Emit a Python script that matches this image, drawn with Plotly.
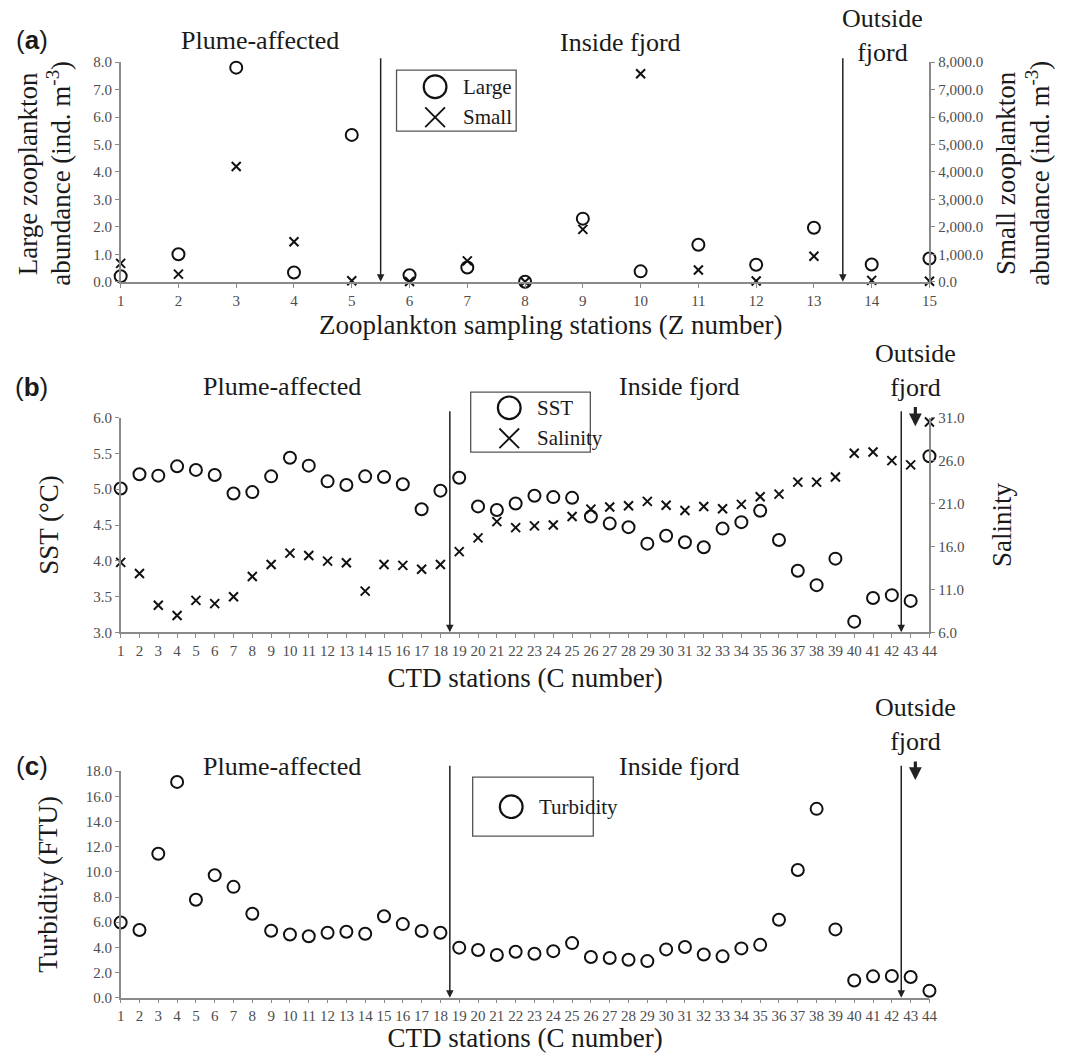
import plotly.graph_objects as go

W, H = 1066, 1053

# ---------------- data ----------------
z_stations = list(range(1, 16))
large_abund = [0.2, 1.0, 7.8, 0.34, 5.35, 0.24, 0.52, 0.0, 2.3, 0.38, 1.35, 0.62, 1.97, 0.63, 0.85]
small_abund = [670, 280, 4200, 1460, 40, 10, 760, 0, 1910, 7580, 430, 30, 930, 50, 20]

c_stations = list(range(1, 45))
sst = [5.01, 5.21, 5.19, 5.32, 5.27, 5.20, 4.94, 4.96, 5.18, 5.44,
       5.33, 5.11, 5.06, 5.18, 5.17, 5.07, 4.72, 4.98, 5.16, 4.76,
       4.71, 4.80, 4.91, 4.89, 4.88, 4.62, 4.52, 4.47, 4.24, 4.35,
       4.26, 4.19, 4.45, 4.54, 4.70, 4.29, 3.86, 3.66, 4.03, 3.15,
       3.48, 3.52, 3.44, 5.46]
salinity = [14.15, 12.85, 9.15, 7.96, 9.73, 9.35, 10.15, 12.5, 13.9, 15.23,
            14.96, 14.3, 14.1, 10.8, 13.9, 13.8, 13.35, 13.9, 15.4, 17.0,
            18.9, 18.2, 18.4, 18.5, 19.5, 20.35, 20.6, 20.75, 21.25, 20.8,
            20.2, 20.65, 20.4, 20.9, 21.8, 22.1, 23.5, 23.5, 24.1, 26.85,
            27.0, 26.0, 25.5, 30.5]
turbidity = [5.98, 5.38, 11.44, 17.15, 7.79, 9.74, 8.81, 6.67, 5.32, 5.02,
             4.88, 5.16, 5.24, 5.08, 6.48, 5.85, 5.30, 5.16, 3.98, 3.79,
             3.40, 3.65, 3.49, 3.70, 4.34, 3.24, 3.16, 3.02, 2.91, 3.84,
             4.03, 3.43, 3.29, 3.92, 4.20, 6.20, 10.15, 15.01, 5.43, 1.37,
             1.70, 1.73, 1.65, 0.55]

zone_bounds_a = [5.5, 13.5]
zone_bounds_bc = [18.5, 42.5]
outside_marker_bc = 43.25

legend_a = ["Large", "Small"]
legend_b = ["SST", "Salinity"]
legend_c = ["Turbidity"]

# ---------------- styling helpers ----------------
SERIF = "Liberation Serif, 'Times New Roman', Times, serif"
SANS = "Liberation Sans, Arial, sans-serif"
TXT = "#1a1a1a"
TICK = "#4d4d4d"
LINE = "#8a8a8a"
TITLE_SIZE = 27


def px(x):
    return x / W


def py(y):
    return 1 - y / H


circle_marker = dict(symbol="circle-open", size=12, color="#111111", line=dict(width=2, color="#111111"))
x_marker = dict(symbol="x-thin-open", size=9, color="#111111", line=dict(width=2, color="#111111"))

fig = go.Figure()

# Panel (a)
fig.add_trace(go.Scatter(x=z_stations, y=large_abund, mode="markers", name=legend_a[0],
                         marker=circle_marker, xaxis="x", yaxis="y", showlegend=False, cliponaxis=False))
fig.add_trace(go.Scatter(x=z_stations, y=small_abund, mode="markers", name=legend_a[1],
                         marker=x_marker, xaxis="x", yaxis="y2", showlegend=False, cliponaxis=False))
# Panel (b)
fig.add_trace(go.Scatter(x=c_stations, y=sst, mode="markers", name=legend_b[0],
                         marker=circle_marker, xaxis="x2", yaxis="y3", showlegend=False, cliponaxis=False))
fig.add_trace(go.Scatter(x=c_stations, y=salinity, mode="markers", name=legend_b[1],
                         marker=x_marker, xaxis="x2", yaxis="y4", showlegend=False, cliponaxis=False))
# Panel (c)
fig.add_trace(go.Scatter(x=c_stations, y=turbidity, mode="markers", name=legend_c[0],
                         marker=circle_marker, xaxis="x3", yaxis="y5", showlegend=False, cliponaxis=False))

xdom = [px(118), px(936)]
tickfont = dict(family=SERIF, size=15, color=TICK)
titlefont = dict(family=SERIF, size=TITLE_SIZE, color=TXT)

common_axis = dict(showline=True, linecolor=LINE, linewidth=1.5, ticks="outside", ticklen=4,
                   tickcolor=LINE, tickwidth=1.2, showgrid=False, zeroline=False, tickfont=tickfont)

fig.update_layout(
    width=W, height=H, margin=dict(l=0, r=0, t=0, b=0),
    paper_bgcolor="white", plot_bgcolor="white",
    xaxis=dict(domain=xdom, anchor="y", range=[1, 15], dtick=1, tick0=1, **common_axis),
    yaxis=dict(domain=[py(278), py(55)], anchor="x", range=[0, 8], dtick=1, tickformat=".1f", **common_axis),
    yaxis2=dict(overlaying="y", side="right", anchor="x", range=[0, 8000], dtick=1000, tickformat=",.1f",
                **common_axis),
    xaxis2=dict(domain=xdom, anchor="y3", range=[1, 44], dtick=1, tick0=1,
                title=dict(text="CTD stations (C number)", font=titlefont, standoff=10),
                **common_axis),
    yaxis3=dict(domain=[py(634), py(416)], anchor="x2", range=[3, 6], dtick=0.5, tickformat=".1f",
                title=dict(text="SST (°C)", font=titlefont, standoff=27),
                **common_axis),
    yaxis4=dict(overlaying="y3", side="right", anchor="x2", range=[6, 31], dtick=5, tick0=6, tickformat=".1f",
                title=dict(text="Salinity", font=titlefont, standoff=29),
                **common_axis),
    xaxis3=dict(domain=xdom, anchor="y5", range=[1, 44], dtick=1, tick0=1,
                title=dict(text="CTD stations (C number)", font=titlefont, standoff=5),
                **common_axis),
    yaxis5=dict(domain=[py(1005), py(775)], anchor="x3", range=[0, 18], dtick=2, tickformat=".1f",
                title=dict(text="Turbidity (FTU)", font=titlefont, standoff=20),
                **common_axis),
)

annotations = []
shapes = []


def label(text, x, y, size=26, family=SERIF, xanchor="center", angle=0):
    annotations.append(dict(text=text, x=px(x), y=py(y), xref="paper", yref="paper", showarrow=False,
                            textangle=angle, font=dict(family=family, size=size, color=TXT),
                            xanchor=xanchor, yanchor="middle"))


# panel (a) axis titles
label("Zooplankton sampling stations (Z number)", 553, 322, size=TITLE_SIZE)
label("Large zooplankton", 25, 168, size=TITLE_SIZE, angle=-90)
label("abundance (ind. m<sup>-3</sup>)", 56, 168, size=TITLE_SIZE, angle=-90)
label("Small zooplankton", 1014, 168, size=TITLE_SIZE, angle=-90)
label("abundance (ind. m<sup>-3</sup>)", 1046, 168, size=TITLE_SIZE, angle=-90)

# panel letters
label("(<b>a</b>)", 28, 32, size=26, family=SANS)
label("(<b>b</b>)", 28, 385, size=26, family=SANS)
label("(<b>c</b>)", 28, 770, size=26, family=SANS)
# region labels
label("Plume-affected", 259, 33)
label("Inside fjord", 624, 35)
label("Outside<br>fjord", 888, 28)
label("Plume-affected", 281, 384)
label("Inside fjord", 683, 384)
label("Outside<br>fjord", 922, 368)
label("Plume-affected", 281, 770)
label("Inside fjord", 683, 770)
label("Outside<br>fjord", 922, 728)


def vline_arrow(xv, ytop, ybot, xref, yref, width=1.5, size=1.0):
    annotations.append(dict(x=xv, y=ybot, ax=xv, ay=ytop, xref=xref, yref=yref, axref=xref, ayref=yref,
                            text="", showarrow=True, arrowhead=2, arrowsize=size, arrowwidth=width,
                            arrowcolor="#222222", standoff=0, startstandoff=0))


for b in zone_bounds_a:
    vline_arrow(b, 8.2, 0, "x", "y")
for b in zone_bounds_bc:
    vline_arrow(b, 6.11, 3.0, "x2", "y3")
    vline_arrow(b, 18.55, 0, "x3", "y5")
vline_arrow(outside_marker_bc, 6.17, 5.88, "x2", "y3", width=3.2, size=0.8)
vline_arrow(outside_marker_bc, 18.9, 17.3, "x3", "y5", width=3.2, size=0.8)


# ---- legends (boxes with enlarged symbols) ----
def legend_box(x0, y0, x1, y1, items):
    shapes.append(dict(type="rect", xref="paper", yref="paper", x0=px(x0), x1=px(x1), y0=py(y1), y1=py(y0),
                       line=dict(color="#555555", width=1.3), fillcolor="white", layer="above"))
    for (kind, text, cx, cy) in items:
        if kind == "circle":
            r = 11.5
            shapes.append(dict(type="circle", xref="paper", yref="paper", x0=px(cx - r), x1=px(cx + r),
                               y0=py(cy + r), y1=py(cy - r), line=dict(color="#111111", width=2.2), layer="above"))
        else:
            h = 10
            for (dx1, dy1, dx2, dy2) in [(-h, -h, h, h), (-h, h, h, -h)]:
                shapes.append(dict(type="line", xref="paper", yref="paper", x0=px(cx + dx1), y0=py(cy + dy1),
                                   x1=px(cx + dx2), y1=py(cy + dy2), line=dict(color="#111111", width=1.8),
                                   layer="above"))
        label(text, cx + 26, cy, size=21, xanchor="left")


legend_box(397, 63, 518, 125, [("circle", legend_a[0], 436, 80), ("x", legend_a[1], 436, 111)])
legend_box(472, 390, 593, 451, [("circle", legend_b[0], 511, 406), ("x", legend_b[1], 511, 437)])
legend_box(474, 781, 596, 841, [("circle", legend_c[0], 513, 811)])

fig.update_layout(annotations=annotations, shapes=shapes)

fig.write_html("out.html")
